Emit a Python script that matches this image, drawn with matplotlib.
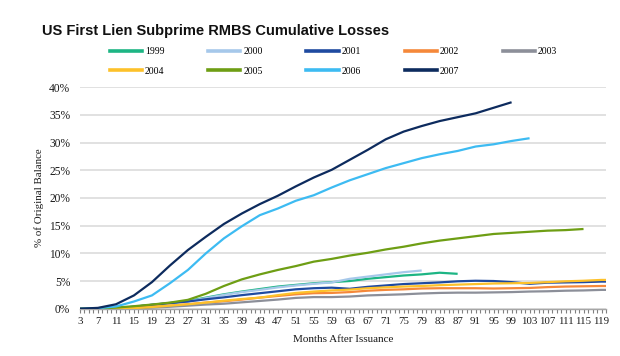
import numpy as np
import matplotlib
matplotlib.use("Agg")
import matplotlib.pyplot as plt
from matplotlib.lines import Line2D
from matplotlib.ticker import FixedLocator, PercentFormatter

months = [3, 7, 11, 15, 19, 23, 27, 31, 35, 39, 43, 47, 51, 55, 59, 63, 67, 71,
          75, 79, 83, 87, 91, 95, 99, 103, 107, 111, 115, 119, 120]
N = np.nan

y1999 = [0, 0, 0.1, 0.35, 0.7, 1.05, 1.4, 2.0, 2.6, 3.1, 3.55, 4.0, 4.3, 4.6, 4.8, 5.0, 5.4, 5.7,
         6.0, 6.2, 6.5, 6.3, N, N, N, N, N, N, N, N, N]
y2000 = [0, 0, 0.1, 0.35, 0.7, 1.0, 1.3, 1.9, 2.5, 3.0, 3.4, 3.85, 4.2, 4.5, 4.75, 5.4, 5.8, 6.2,
         6.6, 6.9, N, N, N, N, N, N, N, N, N, N, N]
y2001 = [0, 0, 0.1, 0.35, 0.7, 1.0, 1.3, 1.7, 2.05, 2.45, 2.8, 3.15, 3.5, 3.7, 3.8, 3.6, 3.95, 4.2,
         4.45, 4.6, 4.75, 4.95, 5.05, 5.0, 4.8, 4.5, 4.7, 4.75, 4.8, 4.9, 4.9]
y2002 = [0, 0, 0, 0.15, 0.35, 0.55, 0.8, 1.1, 1.35, 1.65, 2.0, 2.3, 2.6, 2.8, 2.85, 3.0, 3.25, 3.4,
         3.5, 3.65, 3.7, 3.7, 3.7, 3.65, 3.7, 3.75, 3.9, 4.0, 4.05, 4.1, 4.1]
y2003 = [0, 0, 0, 0.05, 0.2, 0.35, 0.55, 0.75, 0.9, 1.15, 1.4, 1.65, 1.95, 2.1, 2.1, 2.2, 2.4, 2.5,
         2.6, 2.75, 2.85, 2.9, 2.9, 2.95, 3.0, 3.1, 3.15, 3.25, 3.3, 3.4, 3.4]
y2004 = [0, 0, 0, 0.1, 0.3, 0.55, 0.8, 1.1, 1.45, 1.75, 2.0, 2.45, 2.85, 3.1, 3.3, 3.45, 3.7, 3.85,
         4.0, 4.1, 4.25, 4.35, 4.45, 4.55, 4.6, 4.65, 4.8, 4.95, 5.05, 5.2, 5.2]
y2005 = [0, 0.05, 0.2, 0.45, 0.75, 1.1, 1.6, 2.7, 4.1, 5.3, 6.2, 7.0, 7.7, 8.5, 9.0, 9.6, 10.1, 10.7,
         11.2, 11.8, 12.3, 12.7, 13.1, 13.5, 13.7, 13.9, 14.1, 14.2, 14.4, N, N]
y2006 = [0, 0.1, 0.4, 1.3, 2.4, 4.6, 7.0, 10.0, 12.7, 14.9, 16.9, 18.1, 19.5, 20.5, 21.9, 23.2, 24.3, 25.4,
         26.3, 27.2, 27.9, 28.5, 29.3, 29.7, 30.3, 30.8, N, N, N, N, N]
y2007 = [0, 0.15, 0.8, 2.4, 4.8, 7.8, 10.6, 13.0, 15.3, 17.2, 18.9, 20.4, 22.1, 23.7, 25.1, 26.9, 28.7, 30.6,
         32.0, 33.0, 33.9, 34.6, 35.3, 36.3, 37.3, N, N, N, N, N, N]

series = ["1999", "2000", "2001", "2002", "2003", "2004", "2005", "2006", "2007"]
values = [y1999, y2000, y2001, y2002, y2003, y2004, y2005, y2006, y2007]
colors = ["#1db584", "#a6c8ea", "#1f4aa0", "#f5883a", "#8c8f99",
          "#fdc12a", "#6e9e14", "#3dbbf2", "#0d2b5e"]

x_ticks = list(range(3, 120, 4))
y_ticks = [0, 5, 10, 15, 20, 25, 30, 35, 40]

serif = ["Liberation Serif", "DejaVu Serif"]

fig = plt.figure(figsize=(6.2, 3.56), dpi=100)
ax = fig.add_axes([80 / 620, 47.3 / 356, (606 - 80) / 620, (308.7 - 87.3) / 356])

order = [4, 3, 5, 2, 1, 0, 6, 7, 8]
for i in order:
    ax.plot(months, values[i], color=colors[i], lw=1.6, solid_capstyle="butt",
            solid_joinstyle="round", zorder=3 + i * 0.01)

ax.set_xlim(3, 120)
ax.set_ylim(0, 40)
ax.set_yticks(y_ticks)
ax.yaxis.set_major_formatter(PercentFormatter(decimals=0))
ax.set_xticks(x_ticks)
ax.set_xticklabels([str(m) for m in x_ticks])
ax.xaxis.set_minor_locator(FixedLocator(list(range(3, 121))))

ax.grid(axis="y", color="#d9d9d9", lw=1.1, zorder=0)
ax.set_axisbelow(True)
for s in ["left", "right", "top"]:
    ax.spines[s].set_visible(False)
ax.spines["bottom"].set_color("#a6a6a6")
ax.spines["bottom"].set_linewidth(1.0)
ax.spines["bottom"].set_zorder(2)

ax.tick_params(axis="y", length=0, pad=7, labelsize=8.3, labelcolor="#1a1a1a")
ax.tick_params(axis="x", which="both", direction="out", length=3, width=0.8,
               color="#808080", pad=3, labelsize=7.8, labelcolor="#1a1a1a")
for lab in ax.get_xticklabels() + ax.get_yticklabels():
    lab.set_fontfamily(serif)

fig.text(343 / 620, 1 - 339 / 356, "Months After Issuance", ha="center", va="center",
         fontsize=8, family=serif, color="#1a1a1a")
fig.text(39 / 620, 1 - 198 / 356, "% of Original Balance", ha="center", va="center",
         rotation=90, fontsize=7.8, family=serif, color="#1a1a1a")

fig.text(42.5 / 620, 1 - 30.7 / 356, "US First Lien Subprime RMBS Cumulative Losses",
         ha="left", va="center", fontsize=10.5, fontweight="bold",
         family=["Liberation Sans", "DejaVu Sans"], color="#111111")

handles = [Line2D([], [], color=c, lw=2.6) for c in colors]
leg_order = [0, 5, 1, 6, 2, 7, 3, 8, 4]
leg = fig.legend([handles[i] for i in leg_order], [series[i] for i in leg_order],
                 ncol=5, loc="center", bbox_to_anchor=(333.5 / 620, 1 - 61.5 / 356),
                 frameon=False, prop={"family": serif, "size": 7},
                 handlelength=3.3, handletextpad=0.3, columnspacing=4.5,
                 labelspacing=1.1, borderpad=0)

fig.savefig("out.png", dpi=100)
